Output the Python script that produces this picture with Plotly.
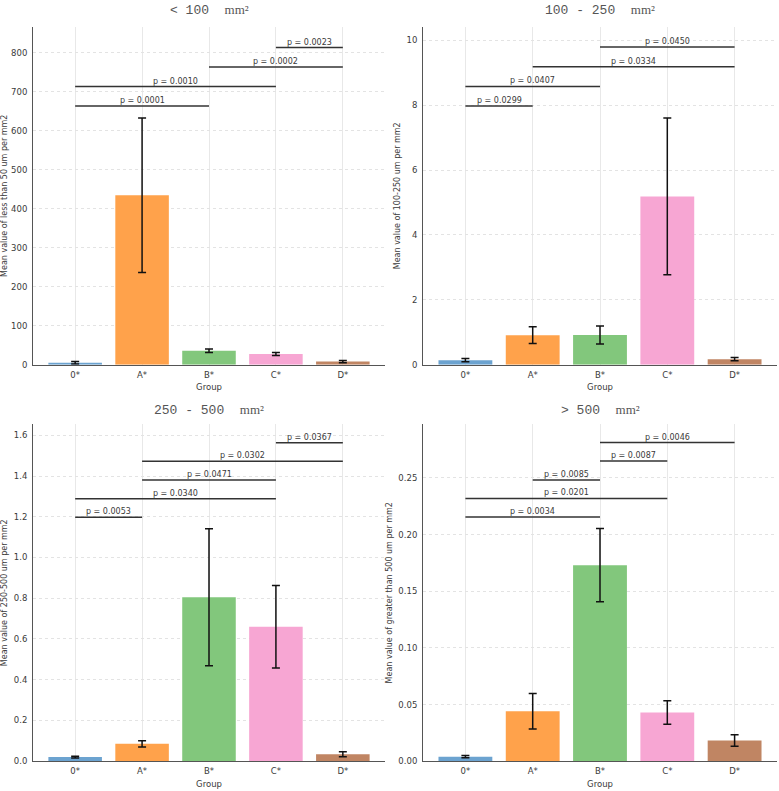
import plotly.graph_objects as go

groups = ["0*", "A*", "B*", "C*", "D*"]
bar_colors = ["#6CA3D0", "#FFA24B", "#82C77C", "#F7A6D3", "#C08563"]

titles = ["< 100", "100 - 250", "250 - 500", "> 500"]
ylabels = [
    "Mean value of less than 50 um per mm2",
    "Mean value of 100-250 um per mm2",
    "Mean value of 250-500 um per mm2",
    "Mean value of greater than 500 um per mm2",
]

# panel 1: < 100 mm2
mean_lt100 = [5, 434, 36, 27.5, 8]
err_lt100 = [3, 198, 4.5, 4, 3]
sig_from_lt100 = ["0*", "0*", "B*", "C*"]
sig_to_lt100 = ["B*", "C*", "D*", "D*"]
sig_p_lt100 = ["0.0001", "0.0010", "0.0002", "0.0023"]
sig_y_lt100 = [663, 713, 763, 813]

# panel 2: 100 - 250 mm2
mean_100_250 = [0.14, 0.91, 0.915, 5.19, 0.17]
err_100_250 = [0.05, 0.26, 0.28, 2.42, 0.05]
sig_from_100_250 = ["0*", "0*", "A*", "B*"]
sig_to_100_250 = ["A*", "B*", "D*", "D*"]
sig_p_100_250 = ["0.0299", "0.0407", "0.0334", "0.0450"]
sig_y_100_250 = [7.98, 8.58, 9.19, 9.8]

# panel 3: 250 - 500 mm2
mean_250_500 = [0.02, 0.085, 0.805, 0.66, 0.034]
err_250_500 = [0.004, 0.015, 0.336, 0.203, 0.012]
sig_from_250_500 = ["0*", "0*", "A*", "A*", "C*"]
sig_to_250_500 = ["A*", "C*", "C*", "D*", "D*"]
sig_p_250_500 = ["0.0053", "0.0340", "0.0471", "0.0302", "0.0367"]
sig_y_250_500 = [1.197, 1.289, 1.380, 1.473, 1.564]

# panel 4: > 500 mm2
mean_gt500 = [0.004, 0.044, 0.173, 0.043, 0.0183]
err_gt500 = [0.001, 0.0157, 0.0323, 0.0104, 0.0051]
sig_from_gt500 = ["0*", "0*", "A*", "B*", "B*"]
sig_to_gt500 = ["B*", "C*", "B*", "C*", "D*"]
sig_p_gt500 = ["0.0034", "0.0201", "0.0085", "0.0087", "0.0046"]
sig_y_gt500 = [0.2155, 0.2319, 0.2482, 0.2649, 0.2813]

panels = [
    (mean_lt100, err_lt100, sig_from_lt100, sig_to_lt100, sig_p_lt100, sig_y_lt100),
    (mean_100_250, err_100_250, sig_from_100_250, sig_to_100_250, sig_p_100_250, sig_y_100_250),
    (mean_250_500, err_250_500, sig_from_250_500, sig_to_250_500, sig_p_250_500, sig_y_250_500),
    (mean_gt500, err_gt500, sig_from_gt500, sig_to_gt500, sig_p_gt500, sig_y_gt500),
]

W, H = 779, 791
# pixel boxes (left, right, top, bottom)
boxes = [(33, 385, 27, 367), (423, 777, 27, 367), (33, 385, 427, 766), (423, 777, 427, 766)]
yranges = [[0, 866], [0, 10.42], [0, 1.654], [0, 0.2974]]
ydticks = [100, 2, 0.2, 0.05]
yformats = ["d", "d", ".1f", ".2f"]
title_y_px = [10, 10, 413, 413]

FONT = "DejaVu Sans"
TXT = "#3a3a3a"
fig = go.Figure()
annotations = []

for k, (means, errs, sfrom, sto, sp, sy) in enumerate(panels):
    ax = "" if k == 0 else str(k + 1)
    xa, ya = "x" + ax, "y" + ax
    fig.add_trace(go.Bar(
        x=groups, y=means, xaxis=xa, yaxis=ya,
        marker=dict(color=bar_colors, line=dict(width=0)),
        width=0.8,
        error_y=dict(type="data", array=errs, visible=True, color="#111111",
                     thickness=1.5, width=4),
        showlegend=False,
    ))
    for a, b, p, yv in zip(sfrom, sto, sp, sy):
        fig.add_trace(go.Scatter(
            x=[a, b], y=[yv, yv], xaxis=xa, yaxis=ya, mode="lines",
            line=dict(color="#333333", width=1.5), showlegend=False,
            hoverinfo="skip",
        ))
        ia, ib = groups.index(a), groups.index(b)
        annotations.append(dict(
            x=(ia + ib) / 2, y=yv, xref=xa, yref=ya, text="p = " + p,
            showarrow=False, yanchor="bottom", xanchor="center", yshift=-1,
            font=dict(family=FONT, size=8, color=TXT),
        ))
    l, r, t, b = boxes[k]
    dom_x = [l / W, r / W]
    dom_y = [1 - b / H, 1 - t / H]
    fig.layout[("xaxis" + ax)] = dict(
        domain=dom_x, anchor=ya, type="category", range=[-0.63, 4.63],
        showgrid=True, gridcolor="#e8e8e8", gridwidth=0.8,
        showline=True, linecolor="#555555", linewidth=1,
        ticks="", ticklabelstandoff=2,
        tickfont=dict(family=FONT, size=8.5, color=TXT),
        title=dict(text="Group", font=dict(family=FONT, size=8.5, color=TXT), standoff=5),
        zeroline=False, fixedrange=True,
    )
    fig.layout[("yaxis" + ax)] = dict(
        domain=dom_y, anchor=xa, range=yranges[k], dtick=ydticks[k], tick0=0,
        tickformat=yformats[k],
        showgrid=True, gridcolor="#e3e3e3", gridwidth=0.7, griddash="dot",
        showline=True, linecolor="#555555", linewidth=1,
        ticks="", ticklabelstandoff=3,
        tickfont=dict(family=FONT, size=8.5, color=TXT),
        title=dict(text=ylabels[k], font=dict(family=FONT, size=8, color=TXT), standoff=4),
        zeroline=False, fixedrange=True,
    )
    annotations.append(dict(
        x=(l + r) / 2 / W, y=1 - title_y_px[k] / H, xref="paper", yref="paper",
        text=titles[k] + "  <span style='font-family:Liberation Serif'>mm²</span>",
        showarrow=False, xanchor="center", yanchor="middle",
        font=dict(family="Liberation Mono", size=13, color="#555555"),
    ))

fig.update_layout(
    width=W, height=H, margin=dict(l=0, r=0, t=0, b=0),
    paper_bgcolor="white", plot_bgcolor="white",
    annotations=annotations, bargap=0.2,
)

fig.write_html("out.html")
